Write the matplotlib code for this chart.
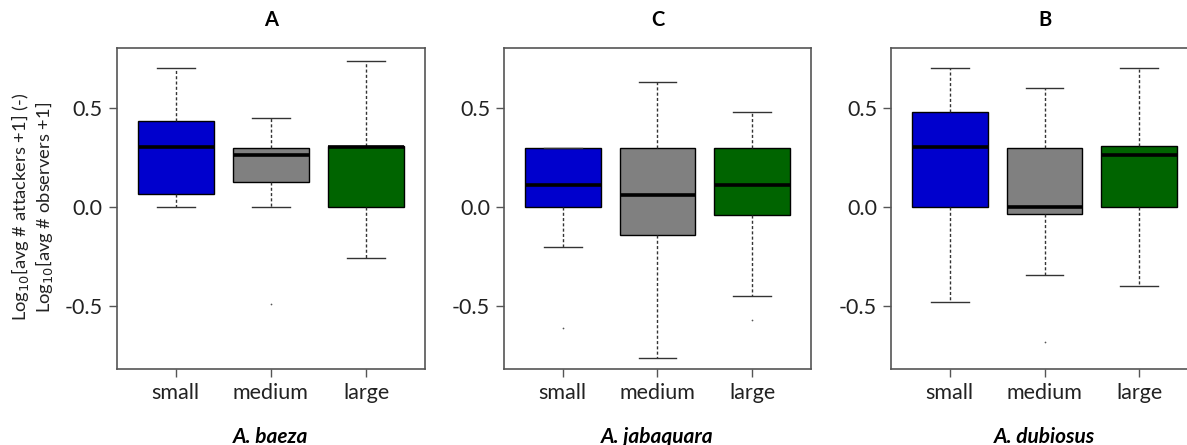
import matplotlib
matplotlib.use("Agg")
import matplotlib.pyplot as plt

plt.rcParams['font.family'] = ['Lato', 'DejaVu Sans']

# Box statistics (whisker low, Q1, median, Q3, whisker high)
sizes = ["small", "medium", "large"]
panel_titles = ["A", "C", "B"]
species = ["A. baeza", "A. jabaquara", "A. dubiosus"]

baeza_low = [0.0, 0.0, -0.258]
baeza_q1 = [0.064, 0.126, 0.0]
baeza_med = [0.30, 0.259, 0.30]
baeza_q3 = [0.431, 0.298, 0.308]
baeza_high = [0.70, 0.448, 0.737]
baeza_out = [[], [-0.49], []]

jabaquara_low = [-0.202, -0.763, -0.449]
jabaquara_q1 = [0.0, -0.141, -0.040]
jabaquara_med = [0.108, 0.061, 0.109]
jabaquara_q3 = [0.298, 0.298, 0.298]
jabaquara_high = [0.298, 0.631, 0.48]
jabaquara_out = [[-0.611], [], [-0.572]]

dubiosus_low = [-0.48, -0.342, -0.40]
dubiosus_q1 = [0.0, -0.035, 0.0]
dubiosus_med = [0.30, 0.0, 0.259]
dubiosus_q3 = [0.48, 0.298, 0.308]
dubiosus_high = [0.70, 0.60, 0.70]
dubiosus_out = [[], [-0.682], []]

colors = ["#0000CD", "#808080", "#006400"]

panels = [
    (baeza_low, baeza_q1, baeza_med, baeza_q3, baeza_high, baeza_out),
    (jabaquara_low, jabaquara_q1, jabaquara_med, jabaquara_q3, jabaquara_high, jabaquara_out),
    (dubiosus_low, dubiosus_q1, dubiosus_med, dubiosus_q3, dubiosus_high, dubiosus_out),
]

W, H = 1187, 445
fig = plt.figure(figsize=(W / 100, H / 100), dpi=100)

# axes boxes in pixels (left, right); the last panel runs past the right edge
lefts = [116.7, 504, 891]
rights = [425, 811, 1198]
top, bottom = 48.3, 369.3

frame_col = "#555555"
for k, (lo, q1, med, q3, hi, out) in enumerate(panels):
    ax = fig.add_axes([lefts[k] / W, 1 - bottom / H,
                       (rights[k] - lefts[k]) / W, (bottom - top) / H])
    stats = []
    for i in range(3):
        stats.append(dict(whislo=lo[i], q1=q1[i], med=med[i], q3=q3[i],
                          whishi=hi[i], fliers=out[i], label=sizes[i]))
    bp = ax.bxp(stats, positions=[1, 2, 3], widths=0.8, patch_artist=True,
                showfliers=True,
                boxprops=dict(edgecolor="black", linewidth=1.0),
                medianprops=dict(color="black", linewidth=2.6, solid_capstyle="butt"),
                whiskerprops=dict(color="#333333", linewidth=1.0, linestyle=(0, (2.2, 1.6))),
                capprops=dict(color="#333333", linewidth=1.0),
                flierprops=dict(marker=".", markersize=2.5, markerfacecolor="#555555",
                                markeredgecolor="none"))
    for patch, c in zip(bp["boxes"], colors):
        patch.set_facecolor(c)
    for cap in bp["caps"]:
        x = cap.get_xdata()
        xm = (x[0] + x[1]) / 2
        cap.set_xdata([xm - 0.2, xm + 0.2])

    ax.set_xlim(0.38, 3.62)
    ax.set_ylim(-0.82, 0.80)
    ax.set_yticks([-0.5, 0.0, 0.5])
    ax.set_yticklabels(["-0.5", "0.0", "0.5"])
    ax.set_xticks([1, 2, 3])
    ax.set_xticklabels(sizes)
    ax.tick_params(labelsize=15.5, length=6, width=1, color=frame_col,
                   labelcolor="#222222", pad=4)
    for s in ax.spines.values():
        s.set_color(frame_col)
        s.set_linewidth(1.2)

    cx = (lefts[k] + rights[k]) / 2
    fig.text(cx / W, 1 - 20 / H, panel_titles[k], ha="center", va="center",
             fontsize=14.5, fontweight="bold")
    fig.text(cx / W, 1 - 437 / H, species[k], ha="center", va="center",
             fontsize=15, fontweight="bold", style="italic")

fig.text(20 / W, 1 - 207 / H, r"Log$_{10}$[avg # attackers +1] (-)",
         rotation=90, ha="center", va="center", fontsize=13.2, color="#222222")
fig.text(44 / W, 1 - 207 / H, r"Log$_{10}$[avg # observers +1]",
         rotation=90, ha="center", va="center", fontsize=13.2, color="#222222")

fig.savefig("out.png", dpi=100)
